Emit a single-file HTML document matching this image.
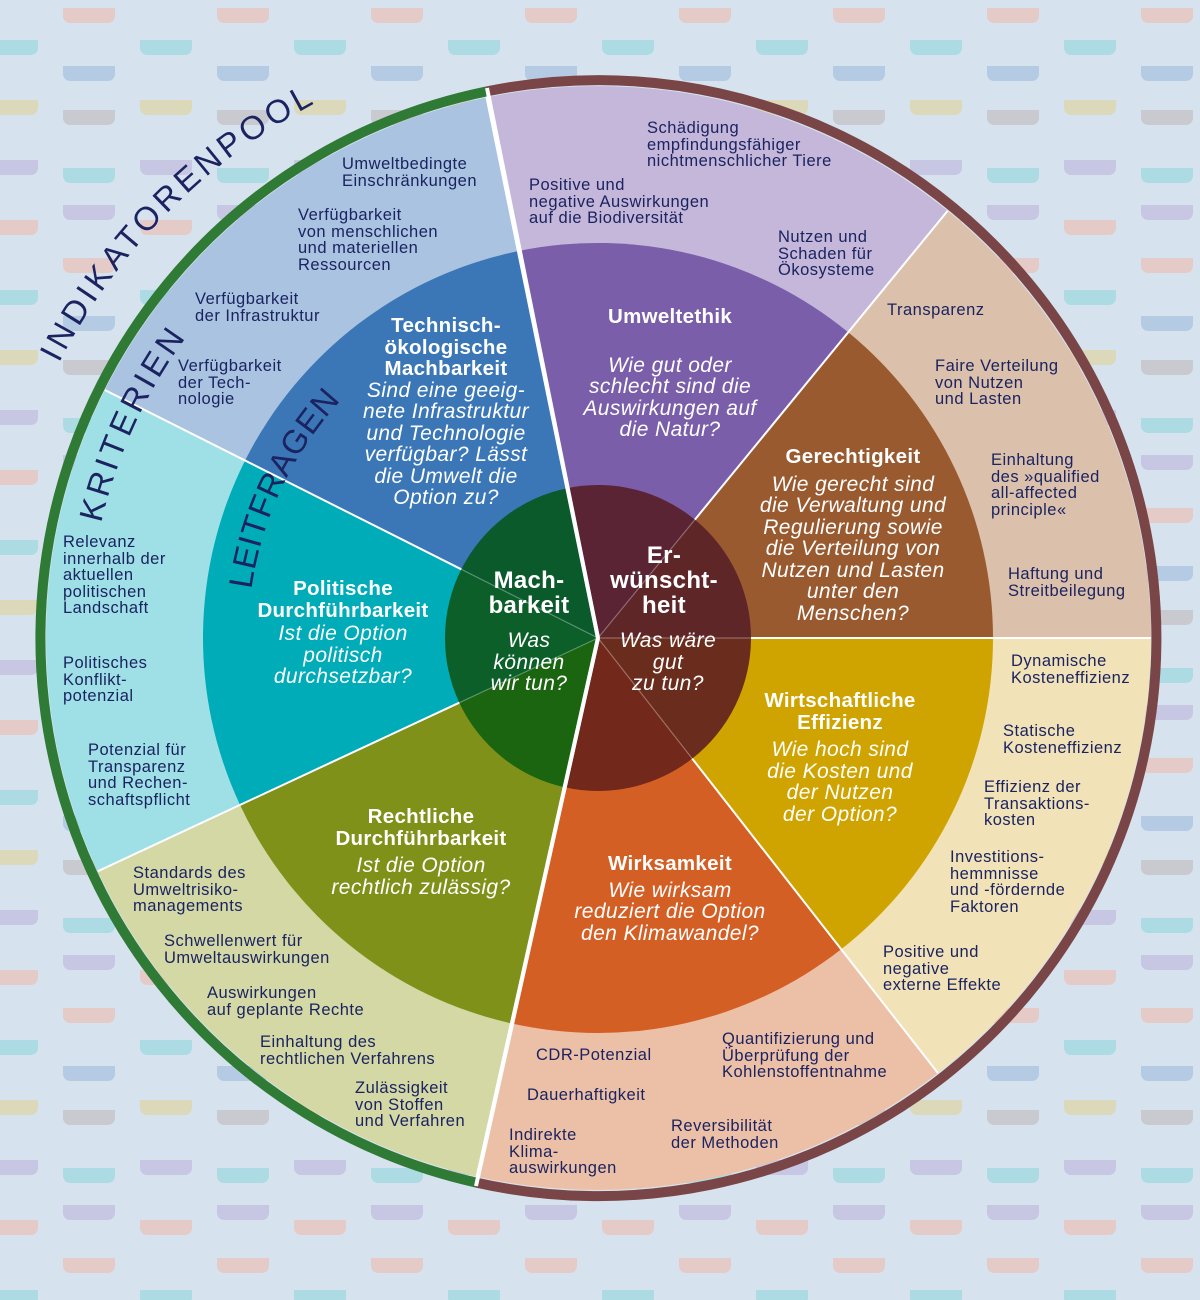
<!DOCTYPE html>
<html><head><meta charset="utf-8"><style>
body{margin:0;width:1200px;height:1300px;overflow:hidden;background:#d6e3ef;font-family:"Liberation Sans",sans-serif}
#w{position:relative;width:1200px;height:1300px}
svg{position:absolute;left:0;top:0}
.o{position:absolute;font-size:16.5px;line-height:16.5px;color:#1b2360;white-space:nowrap;letter-spacing:0.5px}
.m{position:absolute;color:#fff;text-align:center;white-space:nowrap;transform:translateX(-50%)}
.m b{display:block;font-size:20.5px;line-height:21.5px;letter-spacing:0.3px}
.m i{display:block;font-size:21px;line-height:21.5px;letter-spacing:0.4px}
</style></head><body><div id="w">
<svg width="1200" height="1300" viewBox="0 0 1200 1300">
<defs>
<pattern id="bg" x="-14" y="0" width="154" height="250" patternUnits="userSpaceOnUse">
<g opacity="0.9">
<path d="M0 40h52v8a7 7 0 0 1-7 7h-38a7 7 0 0 1-7-7z" fill="#a9dbe2"/>
<path d="M0 100h52v8a7 7 0 0 1-7 7h-38a7 7 0 0 1-7-7z" fill="#dcd9b4"/>
<path d="M0 160h52v8a7 7 0 0 1-7 7h-38a7 7 0 0 1-7-7z" fill="#c6c3e2"/>
<path d="M0 220h52v8a7 7 0 0 1-7 7h-38a7 7 0 0 1-7-7z" fill="#e6c9c4"/>
<path d="M77 8h52v8a7 7 0 0 1-7 7h-38a7 7 0 0 1-7-7z" fill="#e6c9c4"/>
<path d="M77 66h52v8a7 7 0 0 1-7 7h-38a7 7 0 0 1-7-7z" fill="#b2c9e4"/>
<path d="M77 110h52v8a7 7 0 0 1-7 7h-38a7 7 0 0 1-7-7z" fill="#c8c8cc"/>
<path d="M77 168h52v8a7 7 0 0 1-7 7h-38a7 7 0 0 1-7-7z" fill="#a9dbe2"/>
<path d="M77 205h52v8a7 7 0 0 1-7 7h-38a7 7 0 0 1-7-7z" fill="#c6c3e2"/>
</g>
</pattern>
</defs>
<rect width="1200" height="1300" fill="url(#bg)"/>
<g stroke="none">
<path d="M598 638L487.9 97.1A553 553 0 0 1 947.6 210.9Z" fill="#c4b7da"/>
<path d="M598 638L947.6 210.9A553 553 0 0 1 1151 638Z" fill="#dbc0ab"/>
<path d="M598 638L1151 638A553 553 0 0 1 937.9 1073Z" fill="#f1e3b7"/>
<path d="M598 638L937.9 1073A553 553 0 0 1 477.6 1176.7Z" fill="#ecc0a7"/>
<path d="M598 638L477.6 1176.7A553 553 0 0 1 97.7 871.3Z" fill="#d3d8a5"/>
<path d="M598 638L97.7 871.3A553 553 0 0 1 104.8 390Z" fill="#9fe0e6"/>
<path d="M598 638L104.8 390A553 553 0 0 1 487.9 97.1Z" fill="#a9c3e0"/>
<path d="M598 638L519.2 250.9A395 395 0 0 1 848.2 332.3Z" fill="#7a5ea9"/>
<path d="M598 638L848.2 332.3A395 395 0 0 1 993 638Z" fill="#9a5a30"/>
<path d="M598 638L993 638A395 395 0 0 1 841.2 949.3Z" fill="#cfa300"/>
<path d="M598 638L841.2 949.3A395 395 0 0 1 511.9 1023.5Z" fill="#d45f25"/>
<path d="M598 638L511.9 1023.5A395 395 0 0 1 240 804.9Z" fill="#7f9119"/>
<path d="M598 638L240 804.9A395 395 0 0 1 245.1 460.5Z" fill="#00acb8"/>
<path d="M598 638L245.1 460.5A395 395 0 0 1 519.2 250.9Z" fill="#3b77b7"/>
<path d="M598 638L567.5 488.1A153 153 0 0 1 694.9 519.6Z" fill="#5a2434"/>
<path d="M598 638L694.9 519.6A153 153 0 0 1 751 638Z" fill="#5f2628"/>
<path d="M598 638L751 638A153 153 0 0 1 692.2 758.6Z" fill="#6a2c1c"/>
<path d="M598 638L692.2 758.6A153 153 0 0 1 564.6 787.3Z" fill="#72281a"/>
<path d="M598 638L564.6 787.3A153 153 0 0 1 459.3 702.7Z" fill="#1b6410"/>
<path d="M598 638L459.3 702.7A153 153 0 0 1 461.3 569.3Z" fill="#0c5f29"/>
<path d="M598 638L461.3 569.3A153 153 0 0 1 567.5 488.1Z" fill="#0b5a2c"/>
</g>
<g stroke="#fff" stroke-width="2">
<line x1="694.9" y1="519.6" x2="947.6" y2="210.9"/>
<line x1="751" y1="638" x2="1151" y2="638"/>
<line x1="692.2" y1="758.6" x2="937.9" y2="1073"/>
<line x1="459.3" y1="702.7" x2="97.7" y2="871.3"/>
<line x1="461.3" y1="569.3" x2="104.8" y2="390"/>
</g>
<g stroke="#ffffff" stroke-opacity="0.3" stroke-width="1.2">
<line x1="598" y1="638" x2="694.9" y2="519.6"/>
<line x1="598" y1="638" x2="751" y2="638"/>
<line x1="598" y1="638" x2="692.2" y2="758.6"/>
<line x1="598" y1="638" x2="459.3" y2="702.7"/>
<line x1="598" y1="638" x2="461.3" y2="569.3"/>
</g>
<g stroke="#fff" stroke-width="4">
<line x1="598" y1="638" x2="486" y2="90"/>
<line x1="598" y1="638" x2="476" y2="1184"/>
</g>
<path d="M486.8 91.4A558 558 0 1 1 476.3 1182.6" fill="none" stroke="#7a4546" stroke-width="10"/>
<path d="M476.3 1182.6A558 558 0 0 1 486.8 91.4" fill="none" stroke="#2f7a35" stroke-width="10"/>
<path d="M598 638L487 88" stroke="#fff" stroke-width="4"/>
<path d="M598 638L476 1186" stroke="#fff" stroke-width="4"/>
<path id="p1" d="M58.9 363.3A605 605 0 0 1 391.1 69.5" fill="none"/>
<path id="p2" d="M101.1 523.2A510 510 0 0 1 219 296.8" fill="none"/>
<path id="p3" d="M251.4 589.3A350 350 0 0 1 373 369.9" fill="none"/>
<g fill="#1b2360" font-family="Liberation Sans, sans-serif" font-size="33">
<text><textPath href="#p1" textLength="370" lengthAdjust="spacing">INDIKATORENPOOL</textPath></text>
<text><textPath href="#p2" textLength="205" lengthAdjust="spacing">KRITERIEN</textPath></text>
<text><textPath href="#p3" textLength="212" lengthAdjust="spacing">LEITFRAGEN</textPath></text>
</g>
</svg>

<div class="o" style="left:342px;top:156px">Umweltbedingte<br>Einschränkungen</div>
<div class="o" style="left:298px;top:207px">Verfügbarkeit<br>von menschlichen<br>und materiellen<br>Ressourcen</div>
<div class="o" style="left:195px;top:291px">Verfügbarkeit<br>der Infrastruktur</div>
<div class="o" style="left:178px;top:358px">Verfügbarkeit<br>der Tech-<br>nologie</div>
<div class="o" style="left:647px;top:120px">Schädigung<br>empfindungsfähiger<br>nichtmenschlicher Tiere</div>
<div class="o" style="left:529px;top:177px">Positive und<br>negative Auswirkungen<br>auf die Biodiversität</div>
<div class="o" style="left:778px;top:229px">Nutzen und<br>Schaden für<br>Ökosysteme</div>
<div class="o" style="left:887px;top:302px">Transparenz</div>
<div class="o" style="left:935px;top:358px">Faire Verteilung<br>von Nutzen<br>und Lasten</div>
<div class="o" style="left:991px;top:452px">Einhaltung<br>des »qualified<br>all-affected<br>principle«</div>
<div class="o" style="left:1008px;top:566px">Haftung und<br>Streitbeilegung</div>
<div class="o" style="left:1011px;top:653px">Dynamische<br>Kosteneffizienz</div>
<div class="o" style="left:1003px;top:723px">Statische<br>Kosteneffizienz</div>
<div class="o" style="left:984px;top:779px">Effizienz der<br>Transaktions-<br>kosten</div>
<div class="o" style="left:950px;top:849px">Investitions-<br>hemmnisse<br>und -fördernde<br>Faktoren</div>
<div class="o" style="left:883px;top:944px">Positive und<br>negative<br>externe Effekte</div>
<div class="o" style="left:722px;top:1031px">Quantifizierung und<br>Überprüfung der<br>Kohlenstoffentnahme</div>
<div class="o" style="left:536px;top:1047px">CDR-Potenzial</div>
<div class="o" style="left:527px;top:1087px">Dauerhaftigkeit</div>
<div class="o" style="left:671px;top:1118px">Reversibilität<br>der Methoden</div>
<div class="o" style="left:509px;top:1127px">Indirekte<br>Klima-<br>auswirkungen</div>
<div class="o" style="left:355px;top:1080px">Zulässigkeit<br>von Stoffen<br>und Verfahren</div>
<div class="o" style="left:260px;top:1034px">Einhaltung des<br>rechtlichen Verfahrens</div>
<div class="o" style="left:207px;top:985px">Auswirkungen<br>auf geplante Rechte</div>
<div class="o" style="left:164px;top:933px">Schwellenwert für<br>Umweltauswirkungen</div>
<div class="o" style="left:133px;top:865px">Standards des<br>Umweltrisiko-<br>managements</div>
<div class="o" style="left:88px;top:742px">Potenzial für<br>Transparenz<br>und Rechen-<br>schaftspflicht</div>
<div class="o" style="left:63px;top:655px">Politisches<br>Konflikt-<br>potenzial</div>
<div class="o" style="left:63px;top:534px">Relevanz<br>innerhalb der<br>aktuellen<br>politischen<br>Landschaft</div>

<div class="m" style="left:446px;top:315px"><b>Technisch-<br>ökologische<br>Machbarkeit</b><i>Sind eine geeig-<br>nete Infrastruktur<br>und Technologie<br>verfügbar? Lässt<br>die Umwelt die<br>Option zu?</i></div>
<div class="m" style="left:670px;top:306px"><b>Umweltethik</b><i style="margin-top:27px">Wie gut oder<br>schlecht sind die<br>Auswirkungen auf<br>die Natur?</i></div>
<div class="m" style="left:853px;top:446px"><b>Gerechtigkeit</b><i style="margin-top:6px">Wie gerecht sind<br>die Verwaltung und<br>Regulierung sowie<br>die Verteilung von<br>Nutzen und Lasten<br>unter den<br>Menschen?</i></div>
<div class="m" style="left:840px;top:690px"><b>Wirtschaftliche<br>Effizienz</b><i style="margin-top:6px">Wie hoch sind<br>die Kosten und<br>der Nutzen<br>der Option?</i></div>
<div class="m" style="left:670px;top:853px"><b>Wirksamkeit</b><i style="margin-top:5px">Wie wirksam<br>reduziert die Option<br>den Klimawandel?</i></div>
<div class="m" style="left:421px;top:806px"><b>Rechtliche<br>Durchführbarkeit</b><i style="margin-top:6px">Ist die Option<br>rechtlich zulässig?</i></div>
<div class="m" style="left:343px;top:578px"><b>Politische<br>Durchführbarkeit</b><i style="margin-top:2px">Ist die Option<br>politisch<br>durchsetzbar?</i></div>
<div class="m" style="left:529px;top:568px"><b style="font-size:24px;line-height:25px">Mach-<br>barkeit</b><i style="margin-top:12px">Was<br>können<br>wir tun?</i></div>
<div class="m" style="left:664px;top:543px"><b style="font-size:24px;line-height:25px">Er-<br>wünscht-<br>heit</b><i style="margin-top:12px;margin-left:8px">Was wäre<br>gut<br>zu tun?</i></div>
</div></body></html>
